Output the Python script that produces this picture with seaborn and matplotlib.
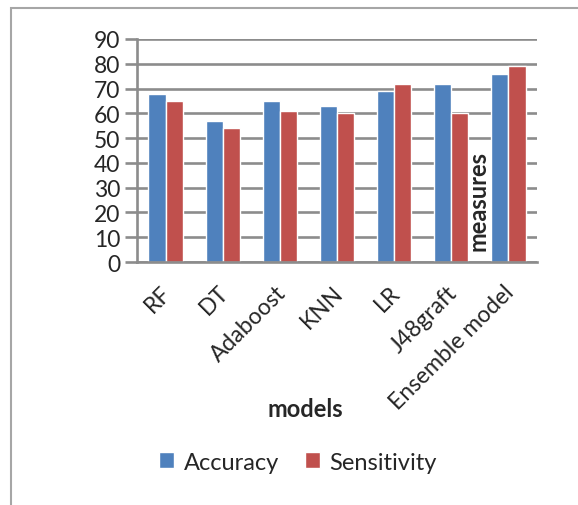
import matplotlib
matplotlib.use("Agg")
import matplotlib.pyplot as plt
import matplotlib.transforms as mtransforms
import seaborn as sns
import pandas as pd
from matplotlib.patches import Rectangle

models = ["RF", "DT", "Adaboost", "KNN", "LR", "J48graft", "Ensemble model"]
accuracy = [68, 57, 65, 63, 69, 72, 76]
sensitivity = [65, 54, 61, 60, 72, 60, 79]
series = ["Accuracy", "Sensitivity"]
yticks = [0, 10, 20, 30, 40, 50, 60, 70, 80, 90]

df = pd.DataFrame({
    "model": models * 2,
    "value": accuracy + sensitivity,
    "measure": [series[0]] * len(models) + [series[1]] * len(models),
})

sns.set_style("white")
plt.rcParams["font.family"] = ["Lato", "DejaVu Sans"]

fig = plt.figure(figsize=(5.78, 5.06), dpi=100)
ax = fig.add_axes([137/578, 1 - 263/506, 400/578, 223/506])

sns.barplot(data=df, x="model", y="value", hue="measure", order=models,
            hue_order=series, palette=["#4F81BD", "#C0504D"], width=0.6,
            saturation=1, ax=ax, legend=True)

ax.set_ylim(0, 90)
ax.set_yticks(yticks)
ax.set_xlim(-0.5, len(models) - 0.5)
ax.yaxis.grid(True, color="#8C8C8C", linewidth=1.9)
ax.set_axisbelow(True)
for s in ["top", "right"]:
    ax.spines[s].set_visible(False)
for s in ["left", "bottom"]:
    ax.spines[s].set_color("#8C8C8C")
    ax.spines[s].set_linewidth(1.9)
ax.tick_params(axis="y", length=9, width=1.9, color="#8C8C8C", labelsize=16.5, pad=3, left=True)
ax.tick_params(axis="x", length=0, labelsize=16.5, pad=3)
offset = mtransforms.ScaledTranslation(-5/100, -15/100, fig.dpi_scale_trans)
for lab in ax.get_xticklabels():
    lab.set_rotation(45)
    lab.set_ha("right")
    lab.set_rotation_mode("anchor")
    lab.set_transform(lab.get_transform() + offset)
ax.set_xlabel("")
ax.set_ylabel("")

fig.text(305/578, 1 - 410/506, "models", ha="center", va="center",
         fontsize=17, fontweight="bold")
# y-axis title sits inside the plot on a white box, beneath the bars
ax.text((478 - 137) / 400, (263 - 201) / 223, "measures", transform=ax.transAxes,
        ha="center", va="center", fontsize=17, fontweight="bold", rotation=90,
        zorder=0.9,
        bbox=dict(boxstyle="square,pad=0.1", facecolor="white", edgecolor="none"))

handles, labels = ax.get_legend_handles_labels()
ax.get_legend().remove()
fig.legend(handles, labels, loc="center", bbox_to_anchor=(298/578, 1 - 463/506),
           ncol=2, frameon=False, fontsize=17, handlelength=0.65, handleheight=0.65,
           handletextpad=0.4, columnspacing=1.1)

fig.patches.append(Rectangle((11/578, -0.1), 1.2, 1 - 9/506 + 0.1,
                             transform=fig.transFigure, fill=False,
                             edgecolor="#A6A6A6", linewidth=1.5))

fig.savefig("out.png", dpi=100)
